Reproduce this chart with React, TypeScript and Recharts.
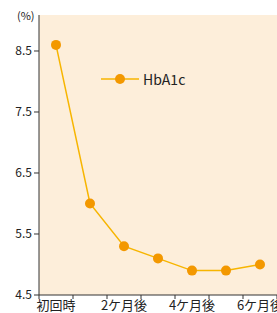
import React from "react";
import {
  LineChart,
  Line,
  XAxis,
  YAxis,
  CartesianGrid,
  Legend,
} from "recharts";

const categories = ["初回時", "1ヶ月後", "2ヶ月後", "3ヶ月後", "4ヶ月後", "5ヶ月後", "6ヶ月後"];
const tickLabels = ["初回時", "", "2ケ月後", "", "4ケ月後", "", "6ケ月後"];
const hba1c = [8.6, 6.0, 5.3, 5.1, 4.9, 4.9, 5.0];
const yTicks = [4.5, 5.5, 6.5, 7.5, 8.5];

const chartData = categories.map((name, i) => ({
  name,
  pos: i + 0.5,
  HbA1c: hba1c[i],
}));

const LINE = "#F7B500";
const DOT = "#F39800";
const FONT = "'Noto Sans CJK JP', 'Noto Sans', sans-serif";

const XTick = (props: any) => {
  const { x, y, payload } = props;
  const i = payload.value;
  const label = tickLabels[i];
  const half = 238 / 7 / 2;
  return (
    <g>
      <line x1={x} y1={y} x2={x} y2={y + 4} stroke="#333" />
      {label ? (
        <text x={x + half} y={y + 15} textAnchor="middle" fontSize={13} fill="#222" fontFamily={FONT}>
          {label}
        </text>
      ) : null}
    </g>
  );
};

const LegendContent = () => (
  <div style={{ display: "flex", alignItems: "center" }}>
    <svg width={38} height={12}>
      <line x1={0} y1={6} x2={38} y2={6} stroke={LINE} strokeWidth={1.5} />
      <circle cx={19} cy={6} r={5} fill={DOT} />
    </svg>
    <span style={{ marginLeft: 4, fontSize: 14, fontFamily: FONT, color: "#222" }}>HbA1c</span>
  </div>
);

const App: React.FC = () => {
  return (
    <div style={{ position: "absolute", left: 0, top: 0, width: 277, height: 313 }}>
      <span
        style={{
          position: "absolute",
          left: 17,
          top: 7,
          fontSize: 11,
          fontFamily: FONT,
          color: "#222",
        }}
      >
        (%)
      </span>
      <LineChart
        width={277}
        height={313}
        data={chartData}
        margin={{ top: 15, right: 0, left: 0, bottom: 0 }}
      >
        <CartesianGrid horizontal={false} vertical={false} fill="#FDEEDA" />
        <XAxis
          type="number"
          dataKey="pos"
          domain={[0, 7]}
          ticks={[0, 1, 2, 3, 4, 5, 6, 7]}
          height={18}
          tickLine={false}
          tickSize={0}
          tickMargin={0}
          axisLine={{ stroke: "#333" }}
          tick={<XTick />}
          interval={0}
        />
        <YAxis
          width={39}
          domain={[4.5, 9.09]}
          ticks={yTicks}
          tickFormatter={(v: number) => v.toFixed(1)}
          tickSize={5}
          tickMargin={2}
          tick={{ fontSize: 12, fill: "#222", fontFamily: FONT }}
          axisLine={{ stroke: "#333" }}
          tickLine={{ stroke: "#333" }}
          allowDataOverflow
        />
        <Legend
          layout="horizontal"
          verticalAlign="middle"
          align="center"
          wrapperStyle={{ left: 101, top: 69, width: "auto" }}
          content={<LegendContent />}
        />
        <Line
          type="linear"
          dataKey="HbA1c"
          stroke={LINE}
          strokeWidth={1.5}
          dot={{ r: 5, fill: DOT, stroke: DOT, strokeWidth: 0 }}
          isAnimationActive={false}
        />
      </LineChart>
    </div>
  );
};

export default App;
